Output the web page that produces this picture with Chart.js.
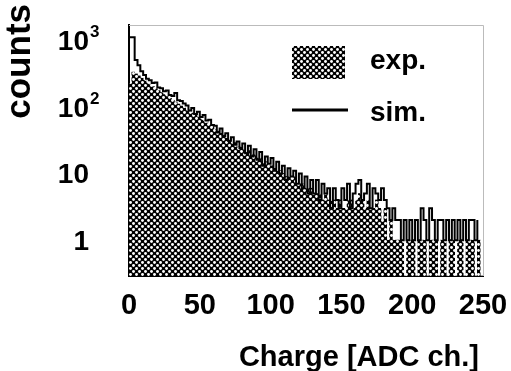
<!DOCTYPE html>
<html><head><meta charset="utf-8">
<script src="https://cdn.jsdelivr.net/npm/chart.js@4/dist/chart.umd.min.js"></script>
<style>html,body{margin:0;padding:0;background:#fff;overflow:hidden}</style>
</head><body>
<canvas id="c" width="511" height="371"></canvas>
<script>
// ---- data ----
const binLow = 0, binWidth = 2;            // histogram binning (ADC channels)
const expCounts = [220, 330, 310, 290, 268, 248, 228, 214, 200, 186,
 175, 163, 152, 142, 134, 125, 117, 110, 102, 96,
 90, 85, 80, 75, 70, 66, 61, 57, 53, 50,
 46, 43, 40, 38, 34, 33, 29, 29, 25, 25,
 23, 21, 22, 19, 19, 17, 17, 14, 15, 13,
 13, 12, 11, 11, 10, 9, 9, 8, 9, 7,
 7, 7, 6, 6, 6, 5, 5, 5, 4, 5,
 4, 4, 4, 3, 4, 3, 3, 4, 4, 3,
 4, 5, 4, 3, 4, 3, 3, 4, 3, 2,
 3, 1, 2, 1, 1, 1, 1, 0, 1, 1,
 1, 0, 1, 1, 1, 0, 1, 1, 1, 0,
 1, 1, 0, 1, 1, 0, 1, 1, 0, 1,
 1, 1, 0, 1, 0];
const simCounts = [1100, 1100, 500, 420, 340, 300, 262, 250, 226, 230,
 195, 190, 170, 175, 150, 145, 160, 125, 122, 112,
 104, 88, 96, 78, 84, 70, 75, 62, 64, 53,
 52, 41, 47, 36, 40, 31, 35, 27, 30, 24,
 28, 20, 26, 18, 23, 16, 21, 13, 18, 14,
 17, 11, 15, 10, 13, 8, 12, 9, 11, 7,
 10, 6, 9, 5, 8, 5, 8, 4, 7, 5,
 6, 3, 6, 4, 3, 6, 4, 7, 3, 5,
 7, 8, 4, 5, 7, 3, 6, 5, 4, 6,
 4, 3, 2, 3, 2, 2, 1, 2, 1, 2,
 1, 2, 1, 3, 2, 1, 3, 2, 1, 2,
 2, 1, 2, 1, 2, 1, 2, 1, 2, 1,
 2, 2, 1, 2, 0];
const xTicks = [0, 50, 100, 150, 200, 250];
const yTicks = [{v: 1000, base: '10', exp: '3'}, {v: 100, base: '10', exp: '2'}, {v: 10, base: '10', exp: ''}, {v: 1, base: '1', exp: ''}];
const seriesLabels = ['exp.', 'sim.'];
const xTitle = 'Charge [ADC ch.]';
const yTitle = 'counts';
const xRange = [0, 250];
const yRange = [0.29, 1680];

// ---- build ----
const canvas = document.getElementById('c');
const ctx0 = canvas.getContext('2d');
function makeHatch() {
  const p = document.createElement('canvas');
  p.width = 6; p.height = 6;
  const g = p.getContext('2d');
  g.fillStyle = '#000'; g.fillRect(0, 0, 6, 6);
  g.fillStyle = '#fff';
  [[1.5, 1.5], [4.5, 4.5]].forEach(([cx, cy]) => { g.beginPath(); g.arc(cx, cy, 1.45, 0, Math.PI * 2); g.fill(); });
  return ctx0.createPattern(p, 'repeat');
}
const hatch = makeHatch();

const expData = expCounts.map((c, i) => ({x: binLow + binWidth * (i + 0.5), y: c}));
const simData = [{x: binLow, y: 0}];
simCounts.forEach((c, i) => simData.push({x: binLow + binWidth * i, y: c}));
simData.push({x: binLow + binWidth * simCounts.length, y: 0});

const FONT = '"Liberation Sans", Arial, Helvetica, sans-serif';

const decor = {
  id: 'decor',
  afterDraw(chart) {
    const ctx = chart.ctx, xs = chart.scales.x, ys = chart.scales.y, a = chart.chartArea;
    ctx.save();
    // faint frame top/right
    ctx.strokeStyle = '#bbb'; ctx.lineWidth = 1;
    ctx.beginPath();
    ctx.moveTo(a.left, a.top + 0.5); ctx.lineTo(a.right + 0.5, a.top + 0.5); ctx.lineTo(a.right + 0.5, a.bottom);
    ctx.stroke();
    ctx.fillStyle = '#000';
    // x tick labels
    ctx.font = 'bold 29px ' + FONT;
    ctx.textAlign = 'center'; ctx.textBaseline = 'alphabetic';
    xTicks.forEach(t => ctx.fillText(String(t), xs.getPixelForValue(t), 314));
    // y tick labels
    yTicks.forEach(t => {
      const y = ys.getPixelForValue(t.v);
      ctx.font = 'bold 28px ' + FONT;
      ctx.textAlign = 'right';
      ctx.fillText(t.base, 89, y + 10);
      if (t.exp) {
        ctx.font = 'bold 17px ' + FONT;
        ctx.textAlign = 'left';
        ctx.fillText(t.exp, 90, y - 3);
      }
    });
    // axis titles
    ctx.font = 'bold 29px ' + FONT;
    ctx.textAlign = 'right';
    ctx.fillText(xTitle, 479, 366);
    ctx.save();
    ctx.font = 'bold 35px ' + FONT;
    ctx.translate(30, 4); ctx.rotate(-Math.PI / 2);
    ctx.textAlign = 'right';
    ctx.fillText(yTitle, 0, 0);
    ctx.restore();
    // legend
    ctx.fillStyle = chart.data.datasets[0].backgroundColor;
    ctx.fillRect(292, 46, 53, 33);
    ctx.strokeStyle = '#000'; ctx.lineWidth = 3;
    ctx.beginPath(); ctx.moveTo(292, 110); ctx.lineTo(348, 110); ctx.stroke();
    ctx.fillStyle = '#000';
    ctx.font = 'bold 28px ' + FONT;
    ctx.textAlign = 'left';
    ctx.fillText(chart.data.datasets[0].label, 370, 69);
    ctx.fillText(chart.data.datasets[1].label, 370, 121);
    ctx.restore();
  }
};

new Chart(canvas, {
  data: {
    datasets: [
      {type: 'bar', label: seriesLabels[0], data: expData, backgroundColor: hatch,
       borderWidth: 0, barPercentage: 1, categoryPercentage: 1, order: 2},
      {type: 'line', label: seriesLabels[1], data: simData, stepped: true,
       borderColor: '#000', borderWidth: 2, pointRadius: 0, fill: false, order: 1}
    ]
  },
  options: {
    responsive: false, animation: false, devicePixelRatio: 1,
    layout: {padding: {left: 129, right: 28, top: 25, bottom: 95}},
    plugins: {legend: {display: false}, tooltip: {enabled: false}},
    scales: {
      x: {type: 'linear', min: xRange[0], max: xRange[1], offset: false,
          ticks: {display: false}, grid: {display: false, drawTicks: false},
          border: {display: true, color: '#000', width: 1},
          afterFit: s => { s.height = 0; }},
      y: {type: 'logarithmic', min: yRange[0], max: yRange[1],
          ticks: {display: false}, grid: {display: false, drawTicks: false},
          border: {display: true, color: '#000', width: 2},
          afterFit: s => { s.width = 0; }}
    }
  },
  plugins: [decor]
});
</script>
</body></html>
